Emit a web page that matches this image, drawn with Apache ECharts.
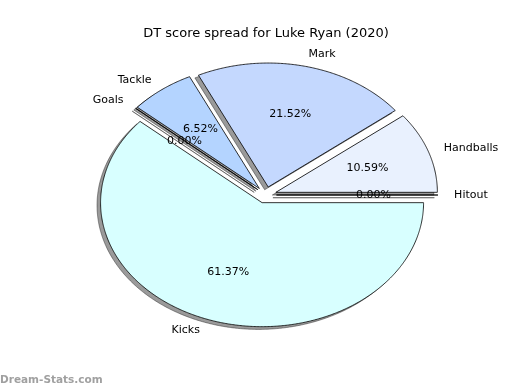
<!DOCTYPE html>
<html>
<head>
<meta charset="utf-8">
<script src="https://cdn.jsdelivr.net/npm/echarts@6/dist/echarts.min.js"></script>
<style>html,body{margin:0;padding:0;background:#fff}#c{width:520px;height:390px}</style>
</head>
<body>
<div id="c"></div>
<script>
const categories = ['Handballs', 'Mark', 'Tackle', 'Goals', 'Kicks', 'Hitout'];
const percents = [10.59, 21.52, 6.52, 0.00, 61.37, 0.00];
const sliceColors = ['#e9f1fe', '#c4d8fe', '#b4d4ff', '#c8e4ff', '#d8ffff', '#e8f8ff'];
const titleText = 'DT score spread for Luke Ryan (2020)';

const total = percents.reduce((a, b) => a + b, 0);
const startFrac = [];
{ let acc = 0; for (const p of percents) { startFrac.push(acc / total); acc += p; } }
const EXPLODE = 0.066;
const FONT = 'DejaVu Sans';
const CX = 265.8, CY = 195, RX = 161.5, RY = 124;

function geom(i) {
  const t1 = startFrac[i] * 2 * Math.PI;
  const t2 = t1 + percents[i] / total * 2 * Math.PI;
  const tm = (t1 + t2) / 2;
  return { t1, t2, tm, ex: EXPLODE * Math.cos(tm), ey: EXPLODE * Math.sin(tm) };
}

function wedgePoints(api, i, ox, oy) {
  const g = geom(i);
  const cx = g.ex + ox, cy = g.ey + oy;
  const pts = [api.coord([cx, cy])];
  const n = Math.max(2, Math.ceil((g.t2 - g.t1) / (Math.PI / 360)));
  for (let k = 0; k <= n; k++) {
    const t = g.t1 + (g.t2 - g.t1) * k / n;
    pts.push(api.coord([cx + Math.cos(t), cy + Math.sin(t)]));
  }
  return pts;
}

const seriesData = categories.map((c, i) => [i, percents[i]]);

const chart = echarts.init(document.getElementById('c'), null, { renderer: 'canvas' });
chart.setOption({
  animation: false,
  backgroundColor: '#ffffff',
  title: {
    text: titleText,
    left: 261, top: 22, textAlign: 'center',
    textStyle: { fontFamily: FONT, fontSize: 13, fontWeight: 'normal', color: '#000' }
  },
  grid: { left: 0, right: 0, top: 0, bottom: 0 },
  xAxis: { type: 'value', min: -CX / RX, max: (520 - CX) / RX, show: false },
  yAxis: { type: 'value', min: -(390 - CY) / RY, max: CY / RY, show: false },
  graphic: [{
    type: 'text', left: 0, top: 375,
    style: { text: 'Dream-Stats.com', fontFamily: FONT, fontSize: 10.5, fontWeight: 'bold', fill: '#a0a0a0' }
  }],
  series: [
    {
      type: 'custom', z: 1, silent: true,
      data: seriesData,
      renderItem: (params, api) => {
        const i = api.value(0);
        return {
          type: 'polygon',
          shape: { points: wedgePoints(api, i, -0.022, -0.022) },
          style: { fill: 'rgba(30,30,30,0.45)', stroke: 'rgba(30,30,30,0.45)', lineWidth: 1 }
        };
      }
    },
    {
      type: 'custom', z: 2, silent: true,
      data: seriesData,
      renderItem: (params, api) => {
        const i = api.value(0);
        return {
          type: 'polygon',
          shape: { points: wedgePoints(api, i, 0, 0) },
          style: { fill: sliceColors[i], stroke: '#000', lineWidth: 0.8, lineJoin: 'miter' }
        };
      }
    },
    {
      type: 'custom', z: 3, silent: true,
      data: seriesData,
      renderItem: (params, api) => {
        const i = api.value(0);
        const g = geom(i);
        const lx = g.ex + 1.1 * Math.cos(g.tm), ly = g.ey + 1.1 * Math.sin(g.tm);
        const px = g.ex + 0.6 * Math.cos(g.tm), py = g.ey + 0.6 * Math.sin(g.tm);
        const lp = api.coord([lx, ly]);
        const pp = api.coord([px, py]);
        return {
          type: 'group',
          children: [
            { type: 'text', x: lp[0], y: lp[1],
              style: { text: categories[i], fontFamily: FONT, fontSize: 11, fill: '#000',
                align: lx > 0 ? 'left' : 'right', verticalAlign: 'middle' } },
            { type: 'text', x: pp[0], y: pp[1],
              style: { text: api.value(1).toFixed(2) + '%', fontFamily: FONT, fontSize: 11, fill: '#000',
                align: 'center', verticalAlign: 'middle' } }
          ]
        };
      }
    }
  ]
});
</script>
</body>
</html>
